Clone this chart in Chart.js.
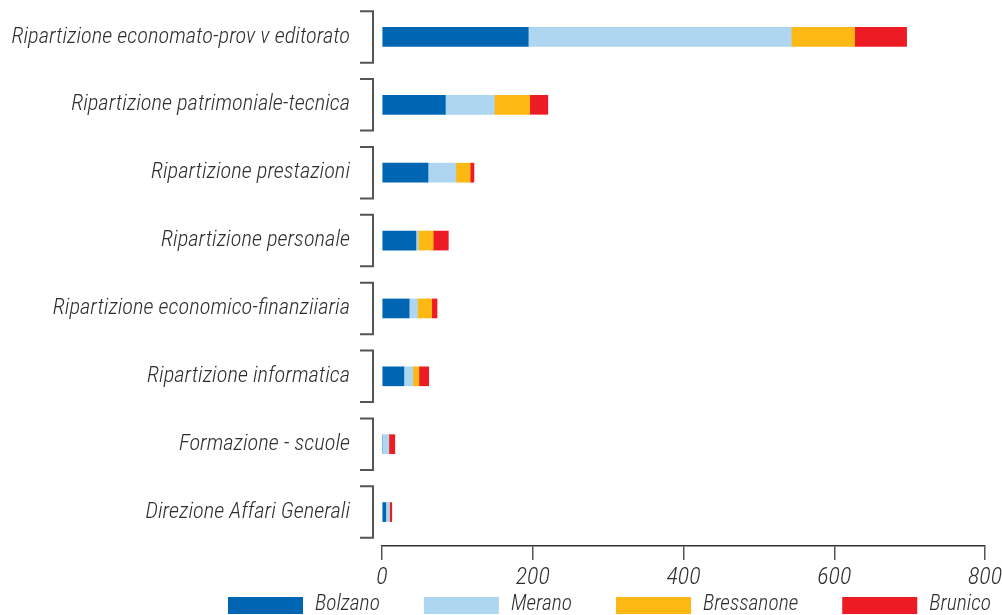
<!DOCTYPE html>
<html>
<head>
<meta charset="utf-8">
<script src="https://cdn.jsdelivr.net/npm/chart.js@4"></script>
<style>
  html, body { margin: 0; padding: 0; background: #fff; }
  #wrap { width: 1002px; height: 615px; position: relative; }
</style>
</head>
<body>
<div id="wrap"><canvas id="barChart"></canvas></div>
<script>
var categories = [
    'Ripartizione economato-prov v editorato',
    'Ripartizione patrimoniale-tecnica',
    'Ripartizione prestazioni',
    'Ripartizione personale',
    'Ripartizione economico-finanziiaria',
    'Ripartizione informatica',
    'Formazione - scuole',
    'Direzione Affari Generali'
];
var seriesNames = ['Bolzano', 'Merano', 'Bressanone', 'Brunico'];
var bolzano = [194, 84, 61, 45, 36, 29, 0, 5];
var merano = [349, 65, 37, 3, 11, 12, 9, 5];
var bressanone = [84, 47, 19, 20, 19, 8, 0, 0];
var brunico = [69, 24, 5, 20, 7, 13, 8, 3];
var xTicks = [0, 200, 400, 600, 800];

var colors = ['#0066b3', '#aed6f1', '#fdb813', '#ed1c24'];
var textColor = '#2e2e2e';
var fontWeight = 300;

// pick the narrowest installed family, then size text to the widths in the picture
function hasFont(name) {
    var c = document.createElement('canvas').getContext('2d');
    c.font = 'italic 60px monospace';
    var w1 = c.measureText('Ripartizione 0123').width;
    c.font = 'italic 60px "' + name + '", monospace';
    var w2 = c.measureText('Ripartizione 0123').width;
    return w1 !== w2;
}
var fontFamily = 'sans-serif';
['Liberation Sans Narrow', 'Arial Narrow', 'Roboto Condensed', 'DejaVu Sans Condensed', 'Liberation Sans'].some(function (f) {
    if (hasFont(f)) { fontFamily = '"' + f + '", sans-serif'; return true; }
    return false;
});
function fitSize(text, target, maxSize) {
    var c = document.createElement('canvas').getContext('2d');
    c.font = 'italic ' + fontWeight + ' 100px ' + fontFamily;
    return Math.min(maxSize, Math.floor(100 * target / c.measureText(text).width * 2) / 2);
}
var yFontSize = fitSize(categories[0], 339, 22.5);
var tickFontSize = fitSize('800', 34, 26);
var legendFontSize = fitSize('Bressanone', 96, 23);

window.onload = function () {
    var ctx = document.getElementById('barChart').getContext('2d');

    // brackets next to each category, placed from the y scale
    var bracketPlugin = {
        id: 'brackets',
        afterDraw: function (chart) {
            var y = chart.scales.y;
            var c = chart.ctx;
            var half = (y.getPixelForTick(1) - y.getPixelForTick(0)) * 0.38;
            var xr = chart.chartArea.left - 9;
            c.save();
            c.strokeStyle = '#555';
            c.lineWidth = 2;
            for (var i = 0; i < categories.length; i++) {
                var cy = y.getPixelForTick(i);
                c.beginPath();
                c.moveTo(xr - 13, cy - half);
                c.lineTo(xr, cy - half);
                c.lineTo(xr, cy + half);
                c.lineTo(xr - 13, cy + half);
                c.stroke();
            }
            c.restore();
        }
    };

    // legend drawn by hand so the spacing can match
    var legendPlugin = {
        id: 'bottomLegend',
        afterDraw: function (chart) {
            var c = chart.ctx;
            c.save();
            c.font = 'italic ' + fontWeight + ' ' + legendFontSize + 'px ' + fontFamily;
            c.textBaseline = 'middle';
            var x = 228;
            var yMid = 605;
            chart.data.datasets.forEach(function (ds) {
                c.fillStyle = ds.backgroundColor;
                c.fillRect(x, yMid - 8, 75, 17);
                c.fillStyle = textColor;
                c.fillText(ds.label, x + 87, yMid);
                x += 87 + c.measureText(ds.label).width + 44;
            });
            c.restore();
        }
    };

    var chart = new Chart(ctx, {
        type: 'bar',
        data: {
            labels: categories,
            datasets: [
                { label: seriesNames[0], data: bolzano, backgroundColor: colors[0] },
                { label: seriesNames[1], data: merano, backgroundColor: colors[1] },
                { label: seriesNames[2], data: bressanone, backgroundColor: colors[2] },
                { label: seriesNames[3], data: brunico, backgroundColor: colors[3] }
            ]
        },
        options: {
            indexAxis: 'y',
            responsive: true,
            maintainAspectRatio: false,
            animation: false,
            datasets: {
                bar: { barThickness: 19, borderWidth: 0 }
            },
            layout: {
                padding: { top: 3, right: 17, bottom: 26, left: 0 }
            },
            plugins: {
                legend: { display: false },
                tooltip: { enabled: false }
            },
            scales: {
                x: {
                    stacked: true,
                    min: 0,
                    max: 800,
                    afterBuildTicks: function (axis) {
                        axis.ticks = xTicks.map(function (v) { return { value: v }; });
                    },
                    afterFit: function (axis) {
                        axis.height = 43;
                        axis.paddingLeft = 0;
                        axis.paddingRight = 0;
                    },
                    border: { display: true, color: '#333', width: 1.5 },
                    grid: {
                        drawOnChartArea: false,
                        drawTicks: true,
                        tickLength: 14,
                        color: '#555',
                        lineWidth: 1.5
                    },
                    ticks: {
                        padding: 4,
                        color: textColor,
                        maxRotation: 0,
                        font: { family: fontFamily, size: tickFontSize, style: 'italic', weight: fontWeight }
                    }
                },
                y: {
                    stacked: true,
                    afterFit: function (axis) {
                        axis.width = 382;
                        axis.paddingTop = 0;
                        axis.paddingBottom = 0;
                    },
                    border: { display: false },
                    grid: { display: false, drawTicks: false },
                    ticks: {
                        padding: 32,
                        color: textColor,
                        font: { family: fontFamily, size: yFontSize, style: 'italic', weight: fontWeight }
                    }
                }
            }
        },
        plugins: [bracketPlugin, legendPlugin]
    });
};
</script>
</body>
</html>
